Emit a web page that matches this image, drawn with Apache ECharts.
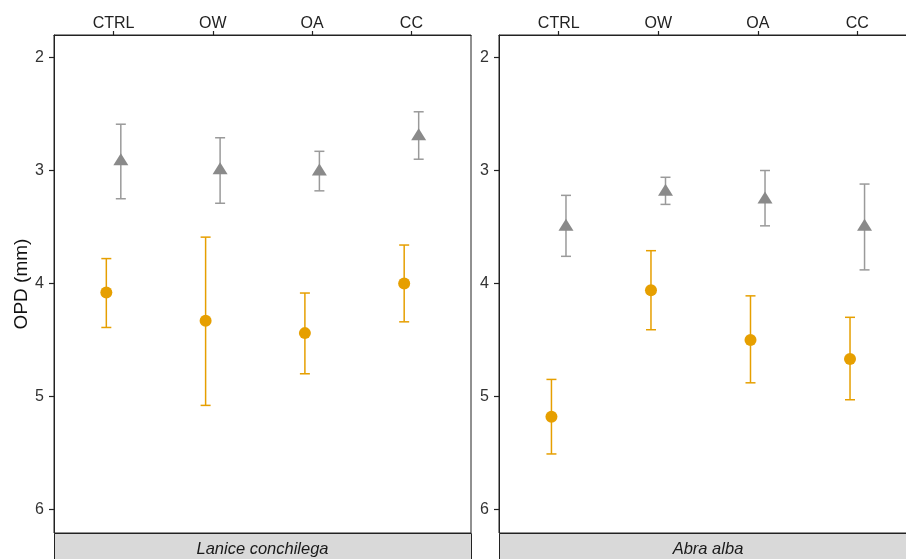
<!DOCTYPE html>
<html style="height: 100%">
<head>
    <meta charset="utf-8">
    <script src="https://cdn.jsdelivr.net/npm/echarts@6/dist/echarts.min.js"></script>
</head>
<body style="height: 100%; margin: 0; background: #fff">
<div id="container" style="width: 906px; height: 559px; overflow: hidden"></div>

<script type="text/javascript">
    var categories = ['CTRL', 'OW', 'OA', 'CC'];
    var yTicks = [2, 3, 4, 5, 6];
    var panelNames = ['Lanice conchilega', 'Abra alba'];

    // Lanice conchilega
    var laniceGreyMean  = [2.90, 2.98, 2.99, 2.68];
    var laniceGreyLow   = [2.59, 2.71, 2.83, 2.48];
    var laniceGreyHigh  = [3.25, 3.29, 3.18, 2.90];
    var laniceOrangeMean = [4.08, 4.33, 4.44, 4.00];
    var laniceOrangeLow  = [3.78, 3.59, 4.085, 3.66];
    var laniceOrangeHigh = [4.39, 5.08, 4.80, 4.34];

    // Abra alba
    var abraGreyMean  = [3.48, 3.17, 3.24, 3.48];
    var abraGreyLow   = [3.22, 3.06, 3.00, 3.12];
    var abraGreyHigh  = [3.76, 3.30, 3.49, 3.88];
    var abraOrangeMean = [5.18, 4.06, 4.50, 4.67];
    var abraOrangeLow  = [4.85, 3.71, 4.11, 4.30];
    var abraOrangeHigh = [5.51, 4.41, 4.88, 5.03];

    var ORANGE = '#E69F00';
    var GREY = '#8A8A8A';
    var GREY_BAR = '#9A9A9A';
    var dodge = 0.073;
    var font = 'Liberation Sans, Arial, sans-serif';

    function pts(mean, off) {
        return mean.map(function (v, i) { return [i + off, v]; });
    }
    function bars(lo, hi, off) {
        return lo.map(function (v, i) { return [i + off, v, hi[i]]; });
    }

    function errorBar(params, api) {
        var x = api.value(0);
        var a = api.coord([x, api.value(1)]);
        var b = api.coord([x, api.value(2)]);
        var w = 5;
        var st = { stroke: api.visual('color'), lineWidth: 1.5 };
        return {
            type: 'group',
            children: [
                { type: 'line', shape: { x1: a[0], y1: a[1], x2: b[0], y2: b[1] }, style: st },
                { type: 'line', shape: { x1: a[0] - w, y1: a[1], x2: a[0] + w, y2: a[1] }, style: st },
                { type: 'line', shape: { x1: b[0] - w, y1: b[1], x2: b[0] + w, y2: b[1] }, style: st }
            ]
        };
    }

    var grids = [
        { left: 54, top: 35, width: 417, height: 498 },
        { left: 499, top: 35, width: 418, height: 498 }
    ];

    function xAxis(i) {
        return {
            gridIndex: i, type: 'value', position: 'top', min: -0.6, max: 3.6,
            axisLine: { show: true, onZero: false, lineStyle: { color: '#222', width: 1 } },
            axisTick: { show: true, customValues: [0, 1, 2, 3], length: 4, lineStyle: { color: '#222', width: 1.2 } },
            axisLabel: {
                customValues: [0, 1, 2, 3], margin: 3, color: '#222', fontSize: 16, fontFamily: font,
                formatter: function (v) { return categories[Math.round(v)]; }
            },
            splitLine: { show: false }
        };
    }
    function yAxis(i) {
        var ax = {
            gridIndex: i, type: 'value', inverse: true, min: 1.8, max: 6.21,
            axisLine: { show: true, onZero: false, lineStyle: { color: '#222', width: 1 } },
            axisTick: { show: true, customValues: yTicks, length: 5, lineStyle: { color: '#222', width: 1.2 } },
            axisLabel: { customValues: yTicks, margin: 10, color: '#333', fontSize: 16, fontFamily: font },
            splitLine: { show: false }
        };
        if (i === 0) {
            ax.name = 'OPD (mm)';
            ax.nameLocation = 'middle';
            ax.nameGap = 22;
            ax.nameTextStyle = { fontSize: 19, color: '#111', fontFamily: font };
        }
        return ax;
    }

    var groups = [
        [laniceGreyMean, laniceGreyLow, laniceGreyHigh, laniceOrangeMean, laniceOrangeLow, laniceOrangeHigh],
        [abraGreyMean, abraGreyLow, abraGreyHigh, abraOrangeMean, abraOrangeLow, abraOrangeHigh]
    ];

    var series = [];
    groups.forEach(function (g, i) {
        series.push({ type: 'custom', xAxisIndex: i, yAxisIndex: i, renderItem: errorBar,
            itemStyle: { color: GREY_BAR }, data: bars(g[1], g[2], dodge), z: 2, silent: true });
        series.push({ type: 'custom', xAxisIndex: i, yAxisIndex: i, renderItem: errorBar,
            itemStyle: { color: ORANGE }, data: bars(g[4], g[5], -dodge), z: 2, silent: true });
        series.push({ type: 'scatter', xAxisIndex: i, yAxisIndex: i, symbol: 'triangle', symbolSize: [15, 12],
            itemStyle: { color: GREY, opacity: 1 }, data: pts(g[0], dodge), z: 3 });
        series.push({ type: 'scatter', xAxisIndex: i, yAxisIndex: i, symbol: 'circle', symbolSize: 12,
            itemStyle: { color: ORANGE, opacity: 1 }, data: pts(g[3], -dodge), z: 3 });
    });

    var graphic = [];
    grids.forEach(function (gr, i) {
        graphic.push({
            type: 'rect', left: gr.left, top: gr.top + gr.height, z: 10,
            shape: { width: gr.width, height: 34 },
            style: { fill: '#D9D9D9', stroke: '#222', lineWidth: 1 }
        });
        graphic.push({
            type: 'text', z: 11, x: gr.left + gr.width / 2, y: gr.top + gr.height + 16,
            style: {
                text: panelNames[i], fontStyle: 'italic', fontSize: 16.5, fontFamily: font,
                fill: '#1A1A1A', align: 'center', verticalAlign: 'middle'
            }
        });
    });

    var myChart = echarts.init(document.getElementById('container'));
    myChart.setOption({
        animation: false,
        grid: grids.map(function (g) {
            return Object.assign({ show: true, borderColor: '#222', borderWidth: 1, backgroundColor: '#fff',
                outerBoundsMode: 'none', containLabel: false }, g);
        }),
        xAxis: [xAxis(0), xAxis(1)],
        yAxis: [yAxis(0), yAxis(1)],
        series: series,
        graphic: graphic
    });
</script>
</body>
</html>
